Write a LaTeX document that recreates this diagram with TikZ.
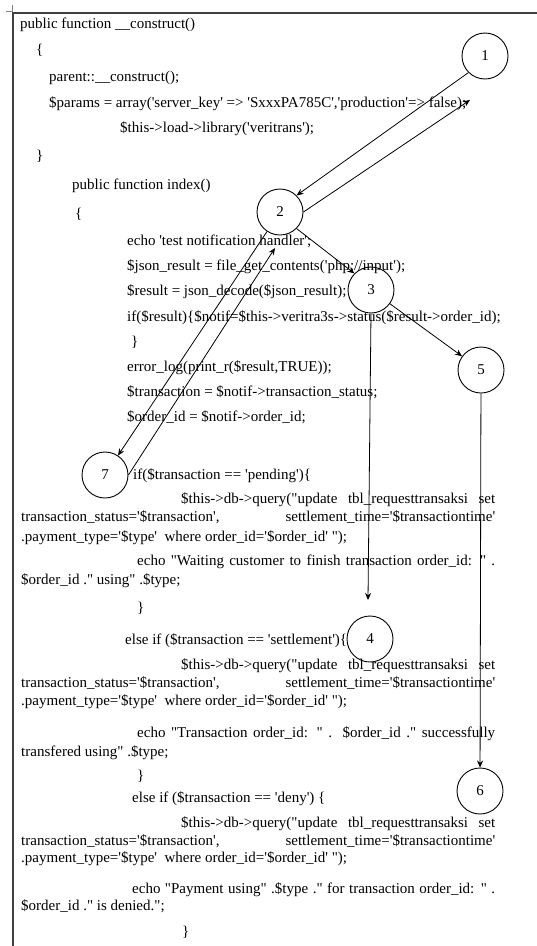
\documentclass[tikz,border=0pt]{standalone}
\usepackage{fontspec}
\newfontfamily\codefont{Liberation Serif}
\usetikzlibrary{arrows.meta}
\newcommand{\jl}[2]{\makebox[#1pt][s]{#2}}
\begin{document}
\begin{tikzpicture}[x=1pt,y=-1pt,
  txt/.style={anchor=base west, inner sep=0pt, font=\codefont\fontsize{15}{18}\selectfont},
  num/.style={draw, circle, minimum size=46pt, inner sep=0pt, line width=0.9pt, font=\codefont\fontsize{15}{18}\selectfont},
  arr/.style={-{Stealth[length=7pt,width=6pt]}, line width=0.8pt}]
\useasboundingbox (0,0) rectangle (537,946);
% frame
\draw[line width=1.2pt, black!75] (13,946) -- (13,13) -- (537,13);
\draw[line width=0.4pt, gray] (6,11) -- (12,11) -- (12,5);
% code
\node[txt] (t1) at (20,28) {public function \_\_construct()};
\node[txt] (t2) at (36,54) {\{};
\node[txt] (t3) at (49,81) {parent::\_\_construct();};
\node[txt] (t4) at (49,107) {\$params = array('server\_key' => 'SxxxPA785C','production'=> false);};
\node[txt] (t5) at (120,132) {\$this->load->library('veritrans');};
\node[txt] (t6) at (36,160) {\}};
\node[txt] (t7) at (72,189) {public function index()};
\node[txt] (t8) at (75,218) {\{};
\node[txt] (t9) at (127,245) {echo 'test notification handler';};
\node[txt] (t10) at (127,270) {\$json\_result = file\_get\_contents('php://input');};
\node[txt] (t11) at (127,295) {\$result = json\_decode(\$json\_result);};
\node[txt] (t12) at (127,321) {if(\$result)\{\$notif=\$this->veritra3s->status(\$result->order\_id);};
\node[txt] (t13) at (131,346) {\}};
\node[txt] (t14) at (127,371) {error\_log(print\_r(\$result,TRUE));};
\node[txt] (t15) at (127,396) {\$transaction = \$notif->transaction\_status;};
\node[txt] (t16) at (127,421) {\$order\_id = \$notif->order\_id;};
\node[txt] (t17) at (133,479) {if(\$transaction == 'pending')\{};
\node[txt] (t18) at (181,503) {\jl{314}{\$this->db->query("update tbl\_requesttransaksi set}};
\node[txt] (t19) at (21,521) {\jl{474}{transaction\_status='\$transaction', settlement\_time='\$transactiontime'}};
\node[txt] (t20) at (21,541) {.payment\_type='\$type'\ \ where order\_id='\$order\_id' ");};
\node[txt] (t21) at (137,565) {\jl{358}{echo "Waiting customer to finish transaction order\_id: " .}};
\node[txt] (t22) at (21,584) {\$order\_id ." using" .\$type;};
\node[txt] (t23) at (137,612) {\}};
\node[txt] (t24) at (125,644) {else if (\$transaction == 'settlement')\{};
\node[txt] (t25) at (181,669) {\jl{314}{\$this->db->query("update tbl\_requesttransaksi set}};
\node[txt] (t26) at (21,687) {\jl{474}{transaction\_status='\$transaction', settlement\_time='\$transactiontime'}};
\node[txt] (t27) at (21,705) {.payment\_type='\$type'\ \ where order\_id='\$order\_id' ");};
\node[txt] (t28) at (137,737) {\jl{358}{echo "Transaction order\_id: " . \$order\_id ." successfully}};
\node[txt] (t29) at (21,756) {transfered using" .\$type;};
\node[txt] (t30) at (137,780) {\}};
\node[txt] (t31) at (132,802) {else if (\$transaction == 'deny') \{};
\node[txt] (t32) at (181,827) {\jl{314}{\$this->db->query("update tbl\_requesttransaksi set}};
\node[txt] (t33) at (21,845) {\jl{474}{transaction\_status='\$transaction', settlement\_time='\$transactiontime'}};
\node[txt] (t34) at (21,862) {.payment\_type='\$type'\ \ where order\_id='\$order\_id' ");};
\node[txt] (t35) at (132,893) {\jl{363}{echo "Payment using" .\$type ." for transaction order\_id: " .}};
\node[txt] (t36) at (21,910) {\$order\_id ." is denied.";};
\node[txt] (t37) at (182,936) {\}};
% circles
\node[num] (c1) at (485,56) {1};
\node[num] (c2) at (280,212) {2};
\node[num] (c3) at (371,290) {3};
\node[num] (c4) at (370,639) {4};
\node[num] (c5) at (481,370) {5};
\node[num] (c6) at (480,791) {6};
\node[num] (c7) at (105,475) {7};
% free ends
\coordinate (b1) at (470,100);
\coordinate (e4) at (368,600);
\coordinate (h2) at (275,248);
% connectors
\draw[arr] (c1.south west) -- (c2.north east);
\draw[arr] (c2.east) -- (b1);
\draw[arr] (c2.south east) -- (c3.north west);
\draw[arr] (c3) -- (c5);
\draw[arr] (c3.south) -- (e4);
\draw[arr] (c5) -- (c6);
\draw[arr] (c2) -- (c7);
\draw[arr] (c7.east) -- (h2);
\end{tikzpicture}
\end{document}
